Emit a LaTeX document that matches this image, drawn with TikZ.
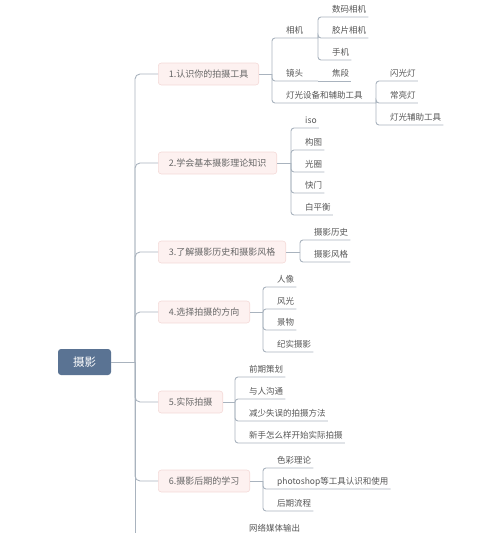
\documentclass[tikz,border=0pt]{standalone}
\usepackage{fontspec}
\setmainfont{Noto Sans CJK SC}
\definecolor{linec}{HTML}{A9B3BE}
\definecolor{rootc}{HTML}{5A7393}
\definecolor{brfill}{HTML}{FDF1F0}
\definecolor{brdraw}{HTML}{F4DAD8}
\definecolor{leaftext}{HTML}{555555}
\definecolor{brtext}{HTML}{666666}
\begin{document}
\begin{tikzpicture}[x=1pt,y=-1pt,
 conn/.style={draw=linec, line width=0.9pt, rounded corners=3pt},
 trunk/.style={draw=linec, line width=0.9pt, rounded corners=5pt},
 rootbox/.style={rectangle, rounded corners=3pt, fill=rootc, text=white, minimum width=53pt, minimum height=26pt, inner sep=0pt, font=\fontsize{11.5}{13}\selectfont},
 branchbox/.style={rectangle, rounded corners=3pt, fill=brfill, draw=brdraw, line width=0.6pt, text=brtext, minimum height=22pt, inner xsep=10.5pt, anchor=west, font=\fontsize{9}{11}\selectfont},
 leaf/.style={inner xsep=2pt, inner ysep=3.5pt, text height=7.5pt, text depth=1pt, anchor=south west, text=leaftext, font=\fontsize{8.5}{10}\selectfont}]
\useasboundingbox (0,0) rectangle (500,533);

% root and trunk
\node[rootbox] (root) at (84.5,362) {摄影};
\coordinate (T) at (135,362);
\coordinate (Tend) at (135,534);
\draw[conn] (root.east) -- (T);
\draw[conn] (T) -- (Tend);

% branch nodes
\node[branchbox] (b1) at (158,74) {1.认识你的拍摄工具};
\node[branchbox] (b2) at (158,163) {2.学会基本摄影理论知识};
\node[branchbox] (b3) at (158,252) {3.了解摄影历史和摄影风格};
\node[branchbox] (b4) at (158,312) {4.选择拍摄的方向};
\node[branchbox] (b5) at (158,402) {5.实际拍摄};
\node[branchbox] (b6) at (158,481) {6.摄影后期的学习};
\foreach \b in {b1,b2,b3,b4,b5,b6} \draw[trunk] (T) |- (\b.west);

% branch 1
\coordinate (J1) at (272,74);
\draw[conn] (b1.east) -- (J1);
\node[leaf] (xj) at (284,38) {相机};
\coordinate (Jxj) at (318,38);
\draw[conn] (J1) |- (Jxj);
\node[leaf] (jt) at (284,81) {镜头};
\coordinate (Jjt) at (318,81);
\draw[conn] (J1) |- (Jjt);
\node[leaf] (jd) at (330,81) {焦段};
\draw[conn] (Jjt) -- (jd.south east);
\node[leaf] (dg) at (284,103) {灯光设备和辅助工具};
\coordinate (Jdg) at (376,103);
\draw[conn] (J1) |- (Jdg);
\node[leaf] (sm) at (330,17) {数码相机};
\node[leaf] (jp) at (330,38) {胶片相机};
\node[leaf] (sj) at (330,60) {手机};
\foreach \c in {sm,jp,sj} \draw[conn] (Jxj) |- (\c.south east);
\node[leaf] (sg) at (388,81) {闪光灯};
\node[leaf] (cl) at (388,103) {常亮灯};
\node[leaf] (fz) at (388,125) {灯光辅助工具};
\foreach \c in {sg,cl,fz} \draw[conn] (Jdg) |- (\c.south east);

% branch 2
\coordinate (J2) at (291,163);
\draw[conn] (b2.east) -- (J2);
\node[leaf] (iso) at (303,128) {iso};
\node[leaf] (gt) at (303,150) {构图};
\node[leaf] (gq) at (303,172) {光圈};
\node[leaf] (km) at (303,193) {快门};
\node[leaf] (bph) at (303,215) {白平衡};
\foreach \c in {iso,gt,gq,km,bph} \draw[conn] (J2) |- (\c.south east);

% branch 3
\coordinate (J3) at (300,252);
\draw[conn] (b3.east) -- (J3);
\node[leaf] (ls) at (312,240) {摄影历史};
\node[leaf] (fg) at (312,262) {摄影风格};
\foreach \c in {ls,fg} \draw[conn] (J3) |- (\c.south east);

% branch 4
\coordinate (J4) at (263,312);
\draw[conn] (b4.east) -- (J4);
\node[leaf] (rx) at (275,287) {人像};
\node[leaf] (fgu) at (275,309) {风光};
\node[leaf] (jw) at (275,330) {景物};
\node[leaf] (js) at (275,352) {纪实摄影};
\foreach \c in {rx,fgu,jw,js} \draw[conn] (J4) |- (\c.south east);

% branch 5
\coordinate (J5) at (235,402);
\draw[conn] (b5.east) -- (J5);
\node[leaf] (qq) at (247,377) {前期策划};
\node[leaf] (gtong) at (247,399) {与人沟通};
\node[leaf] (jsw) at (247,421) {减少失误的拍摄方法};
\node[leaf] (xs) at (247,443) {新手怎么样开始实际拍摄};
\foreach \c in {qq,gtong,jsw,xs} \draw[conn] (J5) |- (\c.south east);

% branch 6
\coordinate (J6) at (263,481);
\draw[conn] (b6.east) -- (J6);
\node[leaf] (sc) at (275,468) {色彩理论};
\node[leaf] (ps) at (275,489) {photoshop等工具认识和使用};
\node[leaf] (hq) at (275,511) {后期流程};
\foreach \c in {sc,ps,hq} \draw[conn] (J6) |- (\c.south east);

% partly visible item below
\node[leaf] (wl) at (247,536) {网络媒体输出};
\end{tikzpicture}
\end{document}
